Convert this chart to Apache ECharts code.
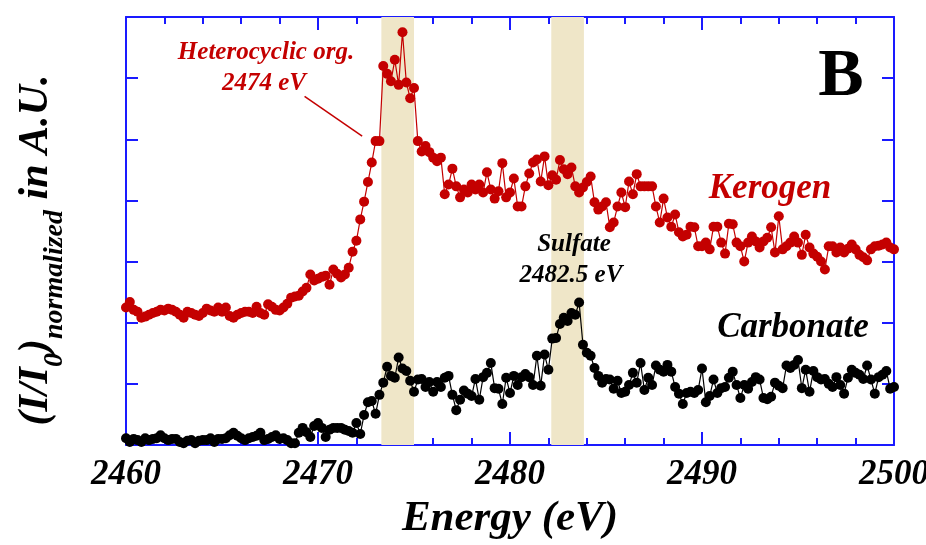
<!DOCTYPE html>
<html>
<head>
<meta charset="utf-8">
<script src="https://cdn.jsdelivr.net/npm/echarts@6/dist/echarts.min.js"></script>
<style>
html,body{margin:0;padding:0;background:#fff;overflow:hidden;}
#chart{width:926px;height:545px;}
</style>
</head>
<body>
<div id="chart"></div>
<script>
// Energy grid (eV): first value and spacing of the measured points
const energyStart = 2460;
const energyStep = 0.2;

// Kerogen spectrum (normalized intensity, arbitrary units)
const kerogen = [
2.25,2.34,2.21,2.18,2.08,2.10,2.13,2.16,2.18,2.21,
2.20,2.23,2.21,2.18,2.13,2.08,2.18,2.16,2.13,2.11,
2.16,2.23,2.20,2.18,2.25,2.18,2.25,2.11,2.08,2.13,
2.16,2.18,2.18,2.16,2.26,2.16,2.13,2.30,2.26,2.21,
2.20,2.25,2.31,2.41,2.43,2.44,2.51,2.57,2.79,2.69,
2.72,2.75,2.77,2.62,2.87,2.80,2.74,2.79,2.90,3.16,
3.34,3.69,3.98,4.30,4.62,4.97,4.97,6.20,6.07,5.95,
6.30,5.89,6.75,5.93,5.67,5.84,4.97,4.80,4.89,4.79,
4.70,4.64,4.70,4.10,4.26,4.52,4.23,4.05,4.18,4.13,
4.26,4.18,4.26,4.13,4.46,4.18,4.03,4.15,4.61,4.05,
4.13,4.36,3.90,3.90,4.23,4.44,4.62,4.67,4.31,4.72,
4.25,4.41,4.34,4.66,4.51,4.43,4.54,4.23,4.13,4.21,
4.30,4.39,3.97,3.85,3.90,3.97,3.56,3.64,3.90,4.13,
3.89,4.31,4.10,4.43,4.23,4.23,4.23,4.23,3.90,3.64,
4.03,3.72,3.57,3.77,3.48,3.41,3.44,3.57,3.56,3.25,
3.25,3.31,3.20,3.57,3.57,3.31,3.13,3.62,3.61,3.31,
3.25,3.00,3.31,3.41,3.33,3.23,3.33,3.39,3.56,3.15,
3.74,3.20,3.25,3.31,3.41,3.31,3.11,3.44,3.23,3.13,
3.08,3.00,2.87,3.25,3.25,3.15,3.23,3.15,3.21,3.28,
3.20,3.11,3.07,3.02,3.20,3.25,3.26,3.28,3.31,3.23,
3.20
];

// Carbonate spectrum (normalized intensity, arbitrary units)
const carbonate = [
0.11,0.05,0.10,0.08,0.05,0.11,0.08,0.10,0.11,0.16,
0.11,0.08,0.10,0.10,0.05,0.03,0.07,0.08,0.03,0.07,
0.08,0.08,0.11,0.05,0.10,0.10,0.11,0.16,0.20,0.15,
0.11,0.08,0.11,0.13,0.15,0.20,0.08,0.10,0.13,0.16,
0.10,0.11,0.08,0.03,0.03,0.20,0.28,0.21,0.13,0.31,
0.36,0.28,0.13,0.25,0.28,0.28,0.28,0.25,0.23,0.20,
0.36,0.18,0.49,0.70,0.72,0.51,0.82,1.02,1.28,1.13,
1.10,1.43,1.25,1.21,1.05,0.87,1.07,1.08,0.95,1.03,
0.87,1.03,0.95,1.10,1.13,0.82,0.57,0.74,0.89,0.84,
0.80,1.08,0.74,1.11,1.18,1.34,0.93,0.92,0.67,1.10,
0.85,1.13,0.98,1.11,1.16,1.11,0.98,1.46,0.97,1.48,
1.23,1.74,1.75,1.98,2.08,2.03,2.16,2.13,2.33,1.64,
1.51,1.46,1.26,1.13,1.02,1.08,1.07,0.92,1.05,0.85,
0.87,0.98,1.18,1.02,1.34,0.90,1.10,0.98,1.30,1.23,
1.20,1.31,1.20,0.95,0.84,0.67,0.85,0.87,0.85,0.90,
1.25,0.70,0.80,1.07,0.85,0.93,0.95,1.10,1.20,0.98,
0.77,0.98,0.92,1.03,1.11,1.07,0.77,0.75,0.79,1.02,
0.97,0.93,1.30,1.26,1.31,1.39,0.93,1.23,0.87,1.21,
1.11,1.07,1.08,1.00,0.95,1.11,0.98,0.84,1.10,1.23,
1.18,1.15,1.08,1.30,1.07,0.84,1.11,1.15,1.21,0.92,
0.95
];

// Highlighted energy bands (eV)
const bands = [[2473.3, 2475.0], [2482.15, 2483.85]];
// Annotation arrow (from label to the 2474 eV edge), data coords
const arrowFrom = [2469.3, 5.70];
const arrowTo = [2472.3, 5.05];

const xMin = 2460, xMax = 2500, xMajor = 10;
const yMin = 0, yMax = 7, yInterval = 1;

const FONT = '"Liberation Serif","Times New Roman",serif';
const RED = '#c40000';
const BLUE = '#1a1aff';
const BAND = '#efe6c8';

function pairs(vals){ return vals.map((v,i)=>[+(energyStart + i*energyStep).toFixed(2), v]); }

const chart = echarts.init(document.getElementById('chart'), null, {renderer:'canvas'});

const xCommon = {
  type:'value', min:xMin, max:xMax, interval:xMajor,
  axisLine:{show:true, onZero:false, lineStyle:{color:BLUE, width:2}},
  axisTick:{show:true, inside:true, length:13, lineStyle:{color:BLUE, width:2}},
  minorTick:{show:true, splitNumber:5, length:7, lineStyle:{color:BLUE, width:2}},
  splitLine:{show:false}, minorSplitLine:{show:false}
};
const yCommon = {
  type:'value', min:yMin, max:yMax, interval:yInterval,
  axisLine:{show:true, onZero:false, lineStyle:{color:BLUE, width:2}},
  axisTick:{show:true, inside:true, length:12, lineStyle:{color:BLUE, width:2}},
  axisLabel:{show:false}, splitLine:{show:false}
};

// measure text for y-axis title pieces
const cv = document.createElement('canvas').getContext('2d');
function tw(t, size){ cv.font = 'italic bold ' + size + 'px "Liberation Serif"'; return cv.measureText(t).width; }
const MAIN = 42, SUB = 28;
const yParts = [['(I/I',MAIN],['0',SUB],[')',MAIN],['normalized',SUB],[' in A.U.',MAIN]];
const totalW = yParts.reduce((s,p)=>s+tw(p[0],p[1]),0);
let cx = -totalW/2;
const yTitleChildren = yParts.map(p=>{
  const el = {type:'text', x:cx, y:(p[1]===SUB?19:0), style:{text:p[0], fill:'#000', font:'italic bold '+p[1]+'px '+FONT, textAlign:'left', textVerticalAlign:'middle'}};
  cx += tw(p[0],p[1]);
  return el;
});

function txt(text, x, y, size, color, italic){
  return {type:'text', x:x, y:y, z:100, style:{text:text, fill:color, font:(italic===false?'':'italic ')+'bold '+size+'px '+FONT, textAlign:'center', textVerticalAlign:'middle'}};
}

chart.setOption({
  backgroundColor:'#fff',
  animation:false,
  grid:{left:126, right:32, top:17, bottom:100, containLabel:false, outerBoundsMode:'none'},
  xAxis:[
    Object.assign({}, xCommon, {position:'bottom',
      axisLabel:{show:true, margin:12, color:'#000', fontSize:35, fontWeight:'bold', fontStyle:'italic', fontFamily:FONT,
        formatter:function(v){ return String(v); }},
      name:'Energy (eV)', nameLocation:'middle', nameGap:50,
      nameTextStyle:{color:'#000', fontSize:43, fontWeight:'bold', fontStyle:'italic', fontFamily:FONT}}),
    Object.assign({}, xCommon, {position:'top', axisLabel:{show:false}})
  ],
  yAxis:[
    Object.assign({}, yCommon, {position:'left'}),
    Object.assign({}, yCommon, {position:'right'})
  ],
  series:[
    {type:'line', name:'bands', data:[], z:1, silent:true,
     markArea:{silent:true, itemStyle:{color:BAND, opacity:1}, label:{show:false},
       data: bands.map(b=>[{xAxis:b[0]},{xAxis:b[1]}])}},
    {type:'line', name:'Carbonate', data:pairs(carbonate), z:3,
     symbol:'circle', symbolSize:10, showSymbol:true, showAllSymbol:true,
     itemStyle:{color:'#000'}, lineStyle:{color:'#000', width:1.2}},
    {type:'line', name:'Kerogen', data:pairs(kerogen), z:4,
     symbol:'circle', symbolSize:10, showSymbol:true, showAllSymbol:true,
     itemStyle:{color:RED}, lineStyle:{color:RED, width:1.2},
     markLine:{silent:true, symbol:['none','arrow'], symbolSize:[0,11], label:{show:false},
       lineStyle:{color:RED, width:1.5, type:'solid'},
       data:[[{coord:arrowFrom},{coord:arrowTo}]]}}
  ],
  graphic:[
    {type:'group', x:36, y:250, rotation:Math.PI/2, children:yTitleChildren},
    txt('Heterocyclic org.', 266, 53, 25, RED),
    txt('2474 eV', 264, 84, 25, RED),
    txt('Sulfate', 574, 245, 25, '#000'),
    txt('2482.5 eV', 571, 276, 25, '#000'),
    txt('Kerogen', 770, 189, 35, RED),
    txt('Carbonate', 793, 328, 35, '#000'),
    txt('B', 841, 77, 68, '#000', false)
  ]
});
</script>
</body>
</html>
